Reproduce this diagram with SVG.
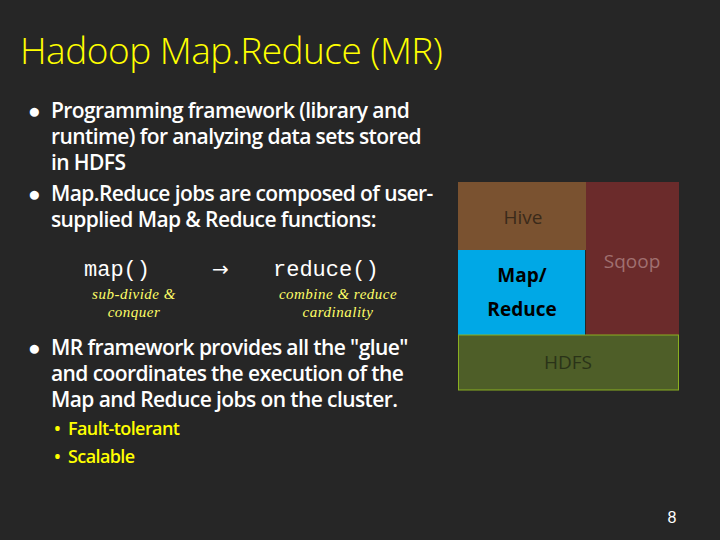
<svg xmlns="http://www.w3.org/2000/svg" width="720" height="540" viewBox="0 0 720 540">
<style>
.b{font-family:"Open Sans","Liberation Sans",sans-serif;font-size:21px;font-weight:600;fill:#fff;letter-spacing:-0.6px}
.s{font-family:"Open Sans","Liberation Sans",sans-serif;font-size:18px;font-weight:600;fill:#ffff00;letter-spacing:-0.6px}
.m{font-family:"Liberation Mono",monospace;font-size:22px;fill:#fff}
.h{font-family:"Liberation Serif",serif;font-style:italic;font-size:15px;fill:#ffff66;text-anchor:middle;letter-spacing:0.5px}
.l{font-family:"Open Sans","Liberation Sans",sans-serif;font-size:19px;text-anchor:middle}
</style>
<rect width="720" height="540" fill="#262626"/>
<text x="20" y="64" font-family="Open Sans, Liberation Sans, sans-serif" font-size="37" font-weight="300" fill="#ffff00" letter-spacing="-0.5">Hadoop Map.Reduce (MR)</text>
<g class="b">
<text x="28" y="118">●</text>
<text x="51" y="118">Programming framework (library and</text>
<text x="51" y="144">runtime) for analyzing data sets stored</text>
<text x="51" y="170">in HDFS</text>
<text x="28" y="201">●</text>
<text x="51" y="201">Map.Reduce jobs are composed of user-</text>
<text x="51" y="227">supplied Map &amp; Reduce functions:</text>
<text x="28" y="355">●</text>
<text x="51" y="355">MR framework provides all the "glue"</text>
<text x="51" y="381">and coordinates the execution of the</text>
<text x="51" y="407">Map and Reduce jobs on the cluster.</text>
</g>
<g class="s">
<text x="54" y="435">•</text><text x="68" y="435">Fault-tolerant</text>
<text x="54" y="463">•</text><text x="68" y="463">Scalable</text>
</g>
<text class="m" x="84" y="276">map()</text>
<text x="212" y="276" font-family="DejaVu Sans, sans-serif" font-size="20" fill="#fff">→</text>
<text class="m" x="273" y="276">reduce()</text>
<text class="h" x="134" y="299">sub-divide &amp;</text>
<text class="h" x="134" y="317">conquer</text>
<text class="h" x="338" y="299">combine &amp; reduce</text>
<text class="h" x="338" y="317">cardinality</text>
<g id="hive"><rect x="458" y="182" width="128" height="68" fill="#7a5230"/><text class="l" x="523" y="224" fill="#3a2a1a">Hive</text></g>
<g id="sqoop"><rect x="586" y="182" width="93" height="153" fill="#6b2b2b"/><text class="l" x="632" y="268" fill="#a07070">Sqoop</text></g>
<g id="mapreduce"><rect x="458" y="250" width="127" height="85" fill="#00a8e6"/><text class="l" x="522" y="282" fill="#000" font-weight="bold" font-size="26">Map/</text><text class="l" x="522" y="316" fill="#000" font-weight="bold" font-size="26">Reduce</text></g>
<g id="hdfs"><rect x="458.5" y="335" width="220" height="55" fill="#4e5e28" stroke="#8ab020" stroke-width="1"/><text class="l" x="568" y="369" fill="#2a3318">HDFS</text></g>
<text x="672" y="523" font-family="Liberation Sans, sans-serif" font-size="16" fill="#fff" text-anchor="middle">8</text>
</svg>
